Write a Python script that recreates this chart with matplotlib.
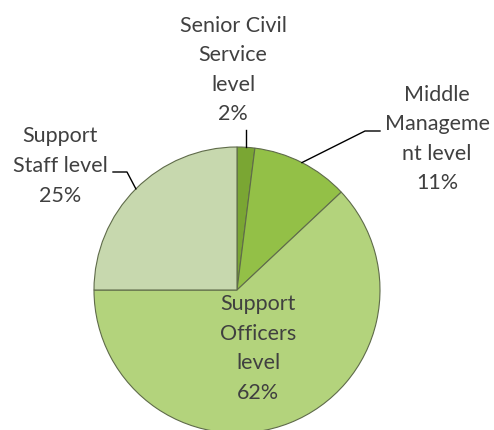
import numpy as np
import matplotlib.pyplot as plt

labels = ["Senior Civil\nService\nlevel", "Middle\nManageme\nnt level", "Support\nOfficers\nlevel", "Support\nStaff level"]
shares = [2, 11, 62, 25]
colors = ["#7aa633", "#93c047", "#b3d37c", "#c7d8ae"]

W, H = 494, 430
fig = plt.figure(figsize=(W / 100, H / 100), dpi=100)
ax = fig.add_axes([0, 0, 1, 1])
ax.set_xlim(0, W)
ax.set_ylim(0, H)
ax.set_aspect("equal")
ax.axis("off")

cx, cy, r = 237, H - 290, 143
wedges, _ = ax.pie(shares, colors=colors, startangle=90, counterclock=False,
                   center=(cx, cy), radius=r,
                   wedgeprops=dict(edgecolor="#5f6b4a", linewidth=0.8))
ax.set_xlim(0, W)
ax.set_ylim(0, H)

font = dict(family=["Lato", "DejaVu Sans"], fontsize=15.5, color="#404040",
            ha="center", va="center", linespacing=1.6)

# label text centres (pixel coords from top) and the elbow of the leader
text_pos = [(233, 70), (437, 139), None, (60, 166)]
elbows = [None, (380, 131), None, (113, 172)]

for i, w in enumerate(wedges):
    txt = labels[i] + "\n" + str(shares[i]) + "%"
    mid = np.deg2rad((w.theta1 + w.theta2) / 2)
    ex, ey = cx + r * np.cos(mid), cy + r * np.sin(mid)
    if text_pos[i] is None:
        ax.text(cx + 0.4 * r * np.cos(mid), cy + 0.44 * r * np.sin(mid), txt, **font)
        continue
    tx, ty = text_pos[i]
    ax.text(tx, H - ty, txt, **font)
    if i == 0:
        ax.plot([ex, ex], [ey, H - 130], color="black", lw=1)
    elif i == 1:
        bx, by = elbows[i]
        ax.plot([ex, bx - 15, bx], [ey, H - by, H - by], color="black", lw=1)
    else:
        bx, by = elbows[i]
        ax.plot([ex, bx + 14, bx], [ey, H - by, H - by], color="black", lw=1)

fig.savefig("out.png", dpi=100)
